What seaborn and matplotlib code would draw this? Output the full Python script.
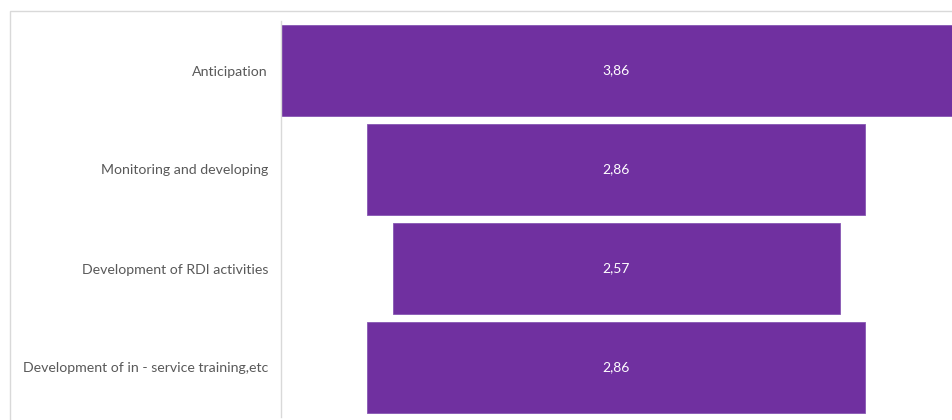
import matplotlib
matplotlib.use("Agg")
import matplotlib.pyplot as plt
import seaborn as sns
import pandas as pd
from matplotlib.patches import Rectangle

categories = ["Anticipation", "Monitoring and developing",
              "Development of RDI activities",
              "Development of in - service training,etc"]
values = [3.86, 2.86, 2.57, 2.86]
value_labels = ["3,86", "2,86", "2,57", "2,86"]

sns.set_theme(style="white")
plt.rcParams['font.family'] = ['Lato', 'DejaVu Sans']

W, H = 952, 420
fig = plt.figure(figsize=(W / 100, H / 100), dpi=100)
fig.patch.set_facecolor("white")

# outer frame
fig.patches.append(Rectangle((10 / W, -0.1), 1.2, (H - 11) / H + 0.1,
                             transform=fig.transFigure, fill=False,
                             edgecolor="#d9d9d9", linewidth=1.0, zorder=0))

ax = fig.add_axes([280.5 / W, (H - 417) / H, (W - 280.5) / W, 396 / H])
df = pd.DataFrame({"cat": categories, "val": values})
sns.barplot(data=df, x="val", y="cat", orient="h", color="#7030A0",
            saturation=1, width=0.92, ax=ax, edgecolor="#8657b3", linewidth=0.6)

for p, lab in zip(ax.patches, value_labels):
    w = p.get_width()
    p.set_x(-w / 2)
    ax.text(0, p.get_y() + p.get_height() / 2, lab, color="white",
            ha="center", va="center", fontsize=10)

mx = max(values)
ax.set_xlim(-mx / 2, mx / 2)
ax.set_ylim(3.5, -0.5)
ax.set_xlabel("")
ax.set_ylabel("")
ax.set_xticks([])
ax.tick_params(axis="y", length=0, pad=9, labelsize=10.2, labelcolor="#595959")
for s in ["top", "right", "bottom"]:
    ax.spines[s].set_visible(False)
ax.spines["left"].set_color("#d9d9d9")
ax.spines["left"].set_linewidth(1.0)
ax.patch.set_alpha(0)

fig.savefig("out.png", dpi=100)
